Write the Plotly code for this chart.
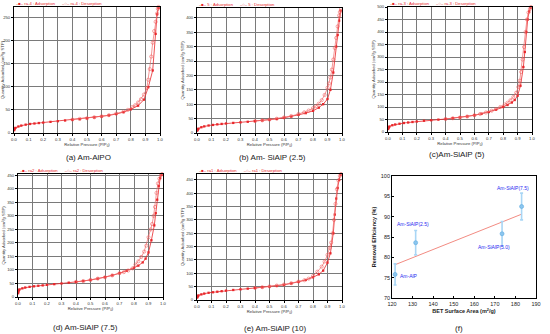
import plotly.graph_objects as go
import numpy as np

# ---------------- data ----------------
P_ads_a = [0.001,0.003,0.006,0.01,0.03,0.05,0.08,0.11,0.14,0.17,0.2,0.25,0.3,0.35,0.4,0.45,0.5,0.55,0.6,0.65,0.7,0.75,0.8,0.85,0.89,0.92,0.95,0.97,0.98,0.99]
Q_ads_a = [6,8,10,11,14,16,18,19.5,20.5,21.5,22.5,24,25.5,27,28.5,30,31.5,33.5,35.5,38,41,45,51,59,72,99,135,214,256,270]
P_des_a = [0.99,0.985,0.98,0.97,0.96,0.95,0.94,0.93,0.92,0.91,0.89,0.87,0.85,0.83,0.81,0.78,0.75,0.7,0.65,0.6,0.55,0.5,0.45,0.4]
Q_des_a = [272,268,258,240,220,195,165,138,115,97,83,73,66,60,56,50,46,42,38.5,36,34,32,30.5,29]

P_ads_b = [0.001,0.003,0.006,0.01,0.03,0.05,0.08,0.11,0.14,0.17,0.2,0.25,0.3,0.35,0.4,0.45,0.5,0.55,0.6,0.65,0.7,0.75,0.8,0.84,0.87,0.9,0.92,0.94,0.96,0.97,0.98,0.99]
Q_ads_b = [8,11,13,15,20,23,26,28,30,31.5,33,35,37,39,41,43.5,46,49,53,57,63,69,77,88,100,118,150,210,300,340,390,425]
P_des_b = [0.993,0.985,0.98,0.97,0.96,0.95,0.94,0.93,0.92,0.91,0.9,0.88,0.86,0.84,0.82,0.8,0.77,0.74,0.7,0.65,0.6,0.55,0.5,0.45,0.4]
Q_des_b = [430,420,408,370,330,295,255,220,193,172,157,132,114,102,93,86,78,72,66,59,54,49.5,46.5,44,41.5]

P_ads_c = [0.001,0.003,0.006,0.01,0.03,0.05,0.08,0.11,0.14,0.17,0.2,0.25,0.3,0.35,0.4,0.45,0.5,0.55,0.6,0.65,0.7,0.75,0.8,0.83,0.86,0.88,0.9,0.92,0.94,0.95,0.96,0.97,0.98,0.99]
Q_ads_c = [12,16,19,22,27,30,33,36,38,40,42,45,47,49.5,52,55,58,62,67,73,80,89,100,108,118,128,145,185,260,320,400,450,482,498]
P_des_c = [0.993,0.985,0.975,0.965,0.955,0.945,0.935,0.925,0.915,0.905,0.89,0.87,0.85,0.83,0.81,0.78,0.75,0.72,0.68,0.64,0.6,0.55,0.5,0.45,0.4]
Q_des_c = [500,492,478,450,400,340,290,240,205,180,157,140,127,117,110,100,92,85,78,72,67,62,58,55,52]

P_ads_d = [0.001,0.003,0.006,0.01,0.03,0.05,0.08,0.11,0.14,0.17,0.2,0.25,0.3,0.35,0.4,0.45,0.5,0.55,0.6,0.65,0.7,0.75,0.8,0.83,0.86,0.88,0.9,0.92,0.94,0.95,0.96,0.97,0.98,0.99]
Q_ads_d = [14,20,25,28,32,35,37.5,39.5,41.5,43,45,47.5,50,53,56,59,63,68,73,80,88,97,108,116,128,142,165,210,265,310,360,410,440,452]
P_des_d = [0.993,0.985,0.975,0.965,0.955,0.945,0.935,0.925,0.915,0.9,0.885,0.87,0.85,0.83,0.81,0.79,0.76,0.73,0.7,0.65,0.6,0.55,0.5,0.45,0.4]
Q_des_d = [455,450,438,420,385,333,300,270,250,221,190,168,148,132,120,106,98,92,88,80,73,68,63,59,56]

P_ads_e = [0.001,0.003,0.006,0.01,0.03,0.05,0.08,0.11,0.14,0.17,0.2,0.25,0.3,0.35,0.4,0.45,0.5,0.55,0.6,0.65,0.7,0.75,0.8,0.84,0.87,0.9,0.92,0.94,0.95,0.96,0.97,0.98,0.99]
Q_ads_e = [9,12,15,17,21,24,27,29,31,33,35,37.5,40,42.5,45,47.5,50,53,57,62,68,75,85,96,110,140,175,250,320,380,420,450,470]
P_des_e = [0.993,0.985,0.975,0.965,0.955,0.945,0.935,0.925,0.915,0.9,0.88,0.86,0.83,0.8,0.77,0.74,0.7,0.65,0.6,0.55,0.5,0.45,0.4]
Q_des_e = [472,465,448,415,360,300,250,215,195,169,144,125,106,90,80,74,69,63,58,54,51,48,45]

sample_names = ["ra-4", "5", "ra-3", "ra2", "ra1"]
captions = ["(a) Am-AlPO", "(b) Am- SiAlP (2.5)", "(c)Am-SiAlP (5)",
            "(d) Am-SiAlP (7.5)", "(e) Am-SiAlP (10)", "(f)"]
y_max = [272, 434, 500, 455, 472]

bet_area = [121.5, 131.5, 173.5, 183.0]
removal_eff = [75.8, 83.6, 85.8, 92.5]
removal_err = [2.6, 3.0, 3.0, 3.3]
bet_labels = ["Am-AlP", "Am-SiAlP(2.5)", "Am-SiAlP(5.0)", "Am-SiAlP(7.5)"]

# ---------------- layout geometry ----------------
W, H = 550, 334
def px_x(a, b):
    return [a / W, b / W]
def px_y(top, bottom):
    return [1 - bottom / H, 1 - top / H]

dom = [
    (px_x(14, 160), px_y(7, 133)),
    (px_x(197, 342), px_y(8, 133)),
    (px_x(388, 532), px_y(7, 132)),
    (px_x(18, 163), px_y(174, 297)),
    (px_x(197, 342), px_y(174, 300)),
    (px_x(392, 536), px_y(176, 298)),
]

series = [
    (P_ads_a, Q_ads_a, P_des_a, Q_des_a),
    (P_ads_b, Q_ads_b, P_des_b, Q_des_b),
    (P_ads_c, Q_ads_c, P_des_c, Q_des_c),
    (P_ads_d, Q_ads_d, P_des_d, Q_des_d),
    (P_ads_e, Q_ads_e, P_des_e, Q_des_e),
]

RED = "#e8262a"
FONT = "Liberation Sans, Arial, sans-serif"
SMALL = 4.2
fig = go.Figure()
layout = dict(width=W, height=H, margin=dict(l=0, r=0, t=0, b=0, autoexpand=False),
              paper_bgcolor="white", plot_bgcolor="white", showlegend=False,
              font=dict(family=FONT))
annotations = []

for i, (pa, qa, pd_, qd) in enumerate(series):
    n = "" if i == 0 else str(i + 1)
    xa, ya = "x" + n, "y" + n
    fig.add_trace(go.Scatter(x=pa, y=qa, mode="lines+markers", xaxis=xa, yaxis=ya,
                             line=dict(color=RED, width=0.8),
                             marker=dict(symbol="square", size=2.3, color=RED),
                             cliponaxis=False))
    fig.add_trace(go.Scatter(x=pd_, y=qd, mode="lines+markers", xaxis=xa, yaxis=ya,
                             line=dict(color="#ef6a6a", width=0.7),
                             marker=dict(symbol="circle-open", size=3.2, color="#ef5050", line=dict(width=0.5)),
                             cliponaxis=False))
    xd, yd = dom[i]
    layout["xaxis" + n] = dict(domain=xd, anchor=ya, range=[0, 1], dtick=0.1, tickformat=".1f",
                               automargin=False,
                               showgrid=True, gridcolor="#7a7a7a", gridwidth=0.8,
                               showline=True, linecolor="black", linewidth=1, mirror=True,
                               ticks="outside", ticklen=2, tickwidth=0.6, tickcolor="black",
                               tickfont=dict(size=SMALL, color="#333"), zeroline=False,
                               title=dict(text="Relative Pressure (P/P<sub>0</sub>)",
                                          font=dict(size=SMALL, color="#333"), standoff=0))
    layout["yaxis" + n] = dict(domain=yd, anchor=xa, range=[0, y_max[i]], dtick=50,
                               automargin=False,
                               showgrid=True, gridcolor="#7a7a7a", gridwidth=0.8,
                               showline=True, linecolor="black", linewidth=1, mirror=True,
                               ticks="outside", ticklen=2, tickwidth=0.6, tickcolor="black",
                               tickfont=dict(size=SMALL, color="#333"), zeroline=False,
                               title=dict(text="Quantity Adsorbed (cm³/g STP)",
                                          font=dict(size=SMALL, color="#333"), standoff=1))
    # legend line above each panel
    top_px = (1 - yd[1]) * H
    annotations.append(dict(xref="paper", yref="paper", x=xd[0], y=1 - max(top_px - 3.5, 3) / H,
                            xanchor="left", yanchor="middle", showarrow=False,
                            text=f"–■– {sample_names[i]} : Adsorption      –○– {sample_names[i]} : Desorption",
                            font=dict(size=SMALL, color=RED, family=FONT)))

# ---------------- panel (f) ----------------
coef = np.polyfit(bet_area, removal_eff, 1)
fit_x = [min(bet_area), max(bet_area)]
fit_y = list(np.polyval(coef, fit_x))
fig.add_trace(go.Scatter(x=fit_x, y=fit_y, mode="lines", xaxis="x6", yaxis="y6",
                         line=dict(color="#f28b82", width=1)))
fig.add_trace(go.Scatter(x=bet_area, y=removal_eff, mode="markers", xaxis="x6", yaxis="y6",
                         marker=dict(symbol="circle", size=4, color="#8cc6ee",
                                     line=dict(width=0.6, color="#5aa9e0")),
                         error_y=dict(type="data", array=removal_err, color="#a9d6f5",
                                      thickness=1.6, width=1.5)))
xd, yd = dom[5]
axf = dict(showline=True, linecolor="black", linewidth=0.8, mirror=True, automargin=False,
           ticks="inside", ticklen=2, tickwidth=0.6, tickcolor="black",
           showgrid=False, zeroline=False, tickfont=dict(size=5.5, color="#222"))
layout["xaxis6"] = dict(axf, domain=xd, anchor="y6", range=[120, 190], dtick=10,
                        title=dict(text="<b>BET Surface Area (m<sup>2</sup>/g)</b>",
                                   font=dict(size=5.5, color="#222"), standoff=3))
layout["yaxis6"] = dict(axf, domain=yd, anchor="x6", range=[70, 100], dtick=5,
                        title=dict(text="<b>Removal Efficiency (%)</b>",
                                   font=dict(size=5.5, color="#222"), standoff=3))
label_pos = [(128.5, 75.3), (130.3, 88.2), (169.6, 82.5), (178.8, 97.1)]
for (lx, ly), t in zip(label_pos, bet_labels):
    annotations.append(dict(xref="x6", yref="y6", x=lx, y=ly, text=t, showarrow=False,
                            font=dict(size=5, color="#2b2bf0", family=FONT)))

# ---------------- captions ----------------
cap_pos = [(88, 157), (272, 157), (457, 155), (85, 327), (275, 328), (459, 328)]
for (cx, cy), t in zip(cap_pos, captions):
    annotations.append(dict(xref="paper", yref="paper", x=cx / W, y=1 - cy / H,
                            xanchor="center", yanchor="middle", showarrow=False,
                            text=t, font=dict(size=8, color="#222", family=FONT)))

layout["annotations"] = annotations
fig.update_layout(**layout)
fig.write_html("out.html", config={"displayModeBar": False},
               post_script="document.body.style.margin='0';document.body.style.padding='0';"
                           "document.body.style.overflow='hidden';")
